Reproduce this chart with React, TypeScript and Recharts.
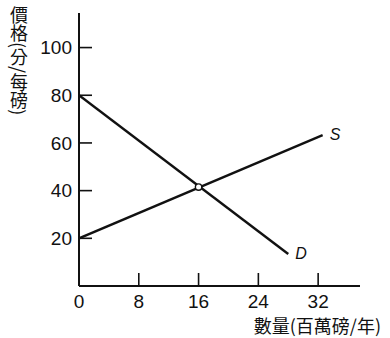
import { Line, LineChart, ReferenceDot, XAxis, YAxis } from "recharts";

const demandQty = [0, 28];
const demandPrice = [80, 13.4];
const supplyQty = [0, 32.6];
const supplyPrice = [20, 63.3];
const equilibrium = { q: 16, p: 41.5 };

const xTicks = [0, 8, 16, 24, 32];
const yTicks = [20, 40, 60, 80, 100];

const demand = demandQty.map((q, i) => ({ q, p: demandPrice[i] }));
const supply = supplyQty.map((q, i) => ({ q, p: supplyPrice[i] }));

const tickFont = { fontFamily: "'Liberation Sans', Arial, sans-serif", fontSize: 19, fill: "#111" };
const cjkFont = "'Noto Sans CJK TC', sans-serif";

function YTick({ x, y, payload }: any) {
  return (
    <g>
      <line x1={x + 7} x2={x + 20} y1={y} y2={y} stroke="#111" strokeWidth={1.6} />
      <text x={x} y={y} dy="0.36em" textAnchor="end" {...tickFont}>
        {payload.value}
      </text>
    </g>
  );
}

function XTick({ x, y, payload }: any) {
  return (
    <g>
      {payload.value !== 0 && (
        <line x1={x} x2={x} y1={y - 8} y2={y - 21} stroke="#111" strokeWidth={1.6} />
      )}
      <text x={x} y={y} dy="0.72em" textAnchor="middle" {...tickFont}>
        {payload.value}
      </text>
    </g>
  );
}

function endLabel(name: string, last: number) {
  return (props: any) => {
    const { x, y, index } = props;
    if (index !== last) return null;
    return (
      <text
        x={x + 7}
        y={y}
        dy="0.3em"
        fontFamily="'Liberation Sans', Arial, sans-serif"
        fontStyle="italic"
        fontSize={16}
        fill="#111"
      >
        {name}
      </text>
    );
  };
}

export default function App() {
  return (
    <div style={{ position: "absolute", left: 0, top: 0, background: "#fff" }}>
      <LineChart width={390} height={338} margin={{ top: 13, right: 30, left: 0, bottom: 0 }}>
        <XAxis
          type="number"
          dataKey="q"
          domain={[0, 37.6]}
          ticks={xTicks}
          tickLine={false}
          tickSize={0}
          tickMargin={8}
          tick={<XTick />}
          height={52}
          axisLine={{ stroke: "#111", strokeWidth: 2 }}
          allowDataOverflow
          label={{
            content: () => (
              <text x={381} y={333} textAnchor="end" fontFamily={cjkFont} fontSize={18} fill="#111">
                數量(百萬磅/年)
              </text>
            ),
          }}
        />
        <YAxis
          type="number"
          dataKey="p"
          domain={[0, 114.5]}
          ticks={yTicks}
          tickLine={false}
          tickSize={0}
          tickMargin={7}
          tick={<YTick />}
          width={79}
          axisLine={{ stroke: "#111", strokeWidth: 2 }}
          allowDataOverflow
          label={{
            content: () => (
              <text
                x={19}
                y={6}
                style={{ writingMode: "vertical-rl" }}
                fontFamily={cjkFont}
                fontSize={18}
                fill="#111"
              >
                價格(分/每磅)
              </text>
            ),
          }}
        />
        <Line
          data={demand}
          dataKey="p"
          stroke="#111"
          strokeWidth={2.4}
          dot={false}
          isAnimationActive={false}
          label={endLabel("D", demand.length - 1)}
        />
        <Line
          data={supply}
          dataKey="p"
          stroke="#111"
          strokeWidth={2.4}
          dot={false}
          isAnimationActive={false}
          label={endLabel("S", supply.length - 1)}
        />
        <ReferenceDot x={equilibrium.q} y={equilibrium.p} r={3.2} fill="#fff" stroke="#111" strokeWidth={1.4} />
      </LineChart>
    </div>
  );
}
